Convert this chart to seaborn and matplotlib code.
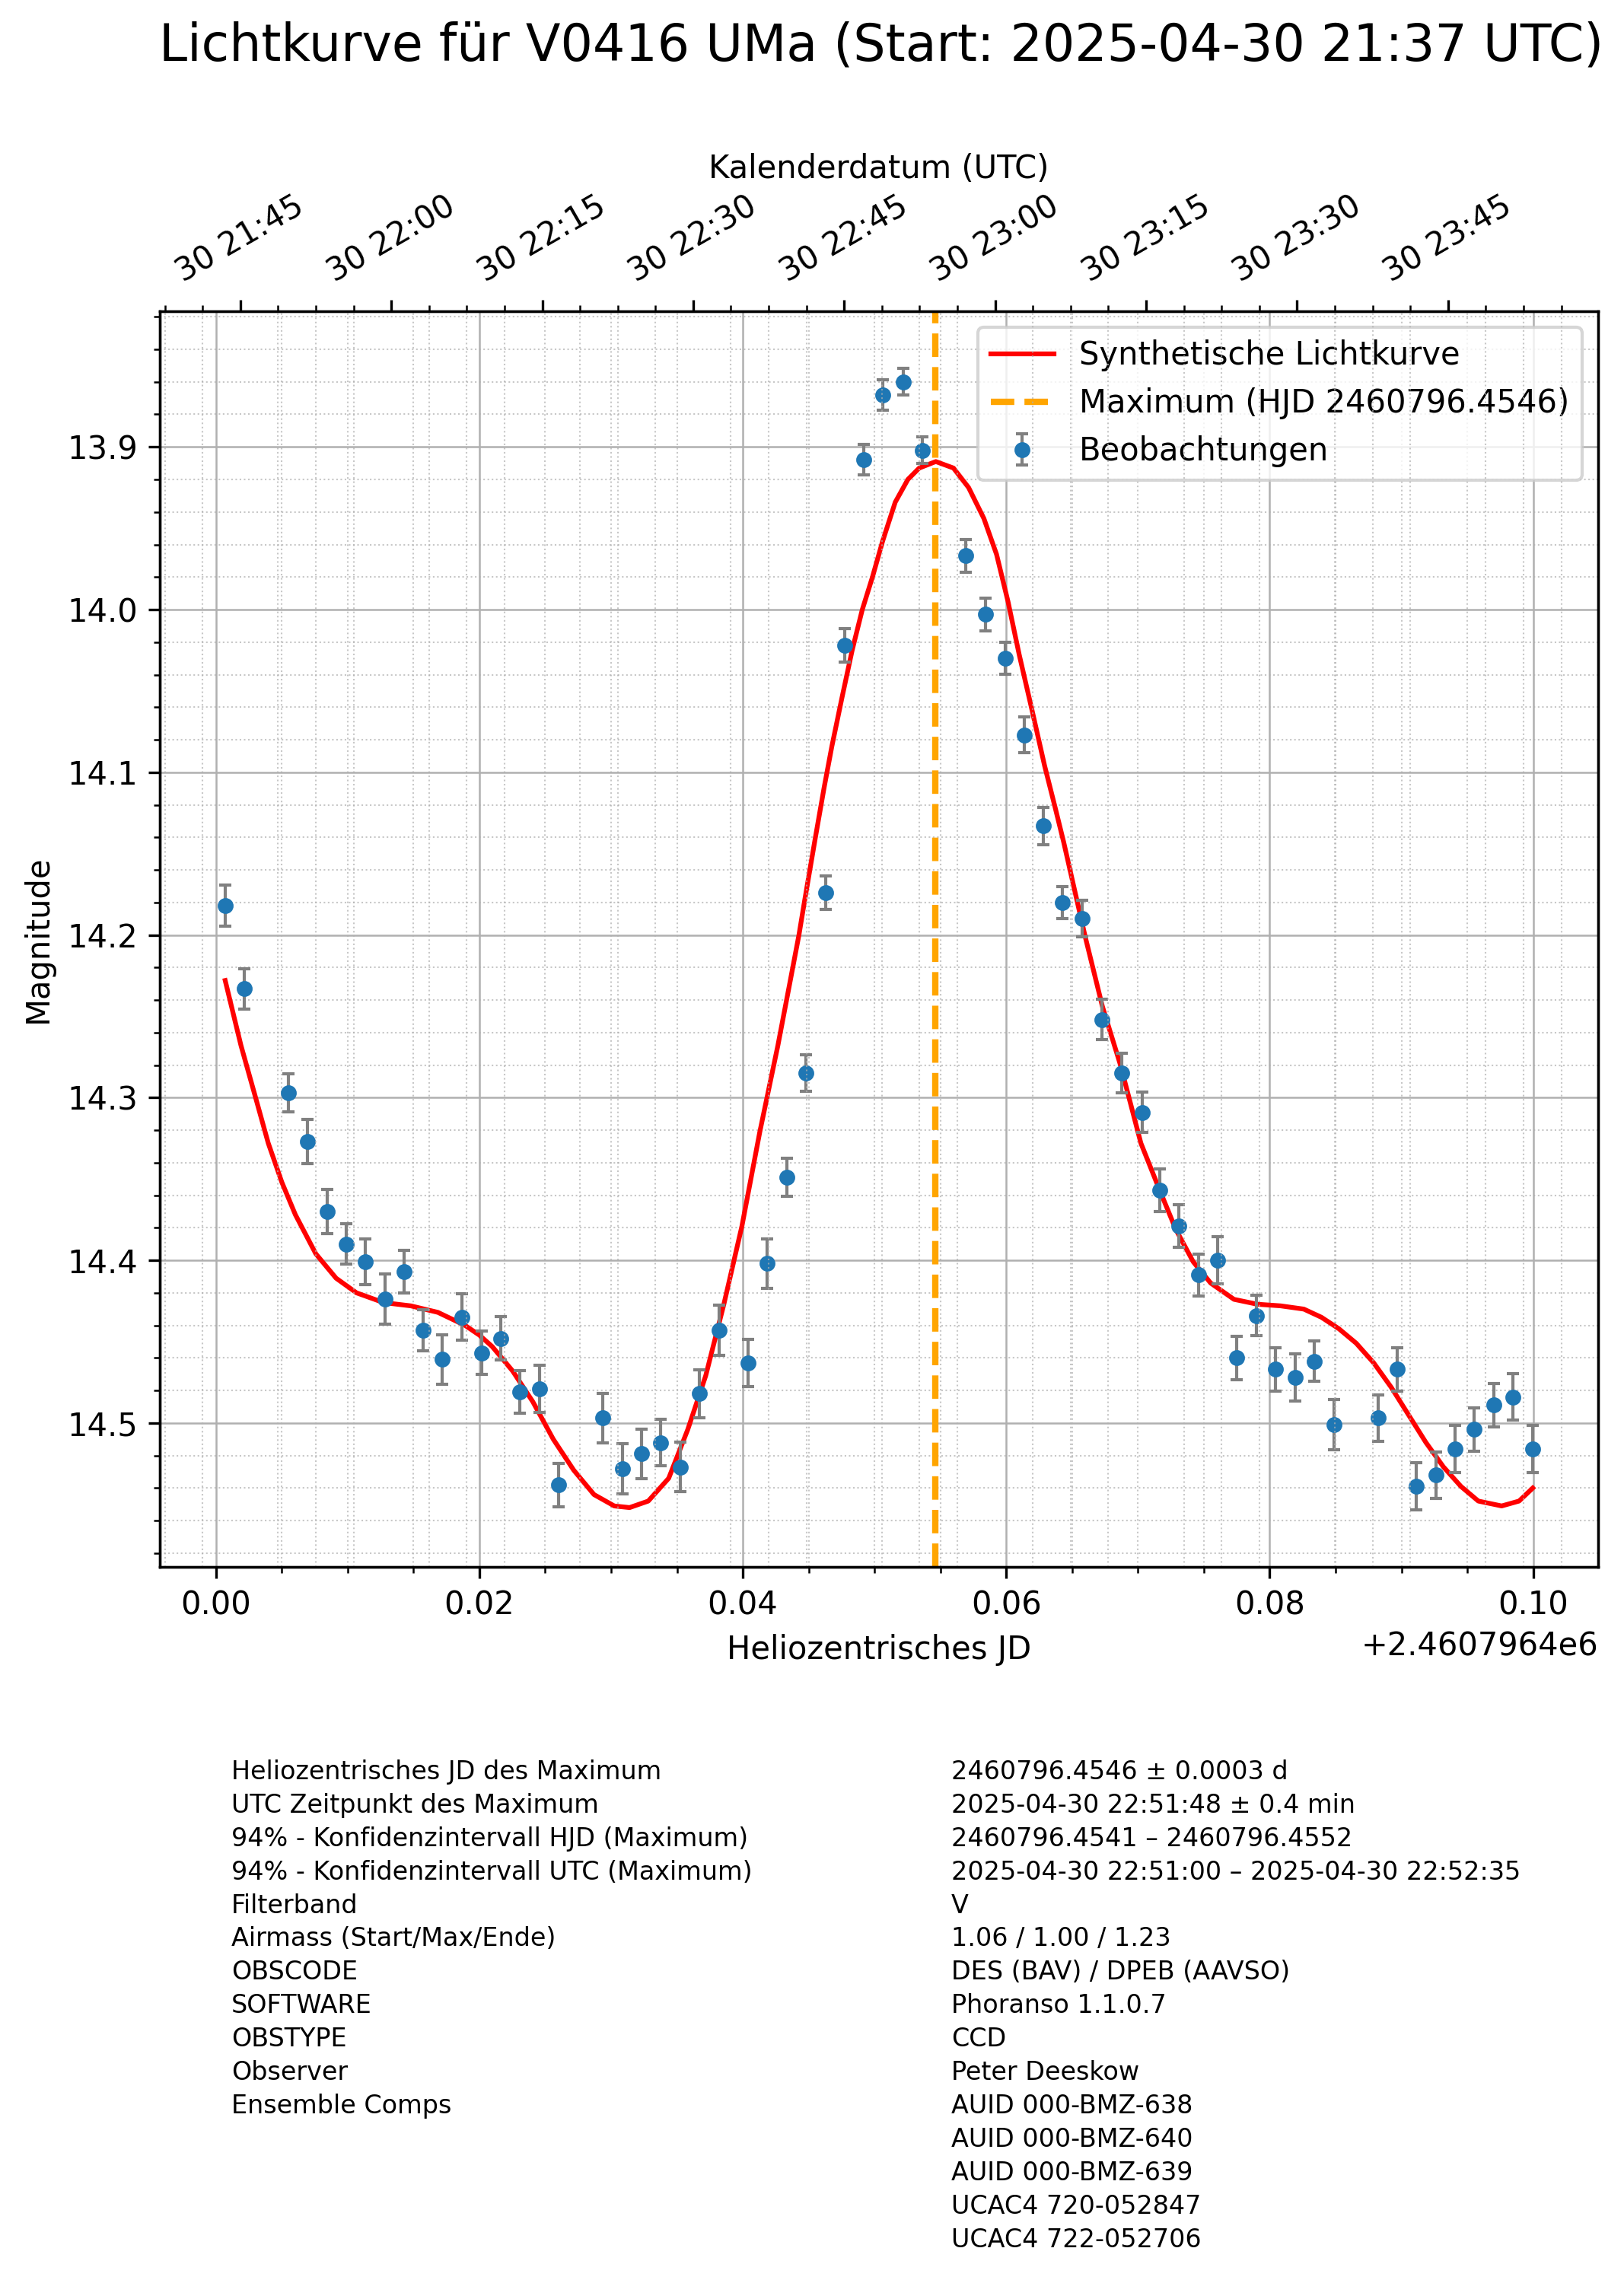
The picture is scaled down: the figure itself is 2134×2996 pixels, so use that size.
import matplotlib
matplotlib.use("Agg")
import matplotlib.pyplot as plt
from matplotlib.ticker import AutoMinorLocator
import seaborn as sns
from datetime import datetime

# ===============================
# Data
# ===============================
hjd = [2460796.40070, 2460796.40214, 2460796.40549, 2460796.40693, 2460796.40842,
       2460796.40987, 2460796.41131, 2460796.41283, 2460796.41430, 2460796.41574,
       2460796.41718, 2460796.41868, 2460796.42015, 2460796.42164, 2460796.42308,
       2460796.42458, 2460796.42602, 2460796.42937, 2460796.43087, 2460796.43231,
       2460796.43375, 2460796.43527, 2460796.43671, 2460796.43821, 2460796.44040,
       2460796.44182, 2460796.44335, 2460796.44478, 2460796.44627, 2460796.44772,
       2460796.44917, 2460796.45065, 2460796.45216, 2460796.45360, 2460796.45694,
       2460796.45840, 2460796.45990, 2460796.46137, 2460796.46282, 2460796.46428,
       2460796.46578, 2460796.46726, 2460796.46874, 2460796.47033, 2460796.47166,
       2460796.47310, 2460796.47462, 2460796.47605, 2460796.47751, 2460796.47899,
       2460796.48045, 2460796.48193, 2460796.48341, 2460796.48489, 2460796.48822,
       2460796.48966, 2460796.49114, 2460796.49262, 2460796.49407, 2460796.49553,
       2460796.49701, 2460796.49847, 2460796.49997]

mag = [14.182, 14.233, 14.297, 14.327, 14.370, 14.390, 14.401, 14.424, 14.407, 14.443,
       14.461, 14.435, 14.457, 14.448, 14.481, 14.479, 14.538, 14.497, 14.528, 14.519,
       14.512, 14.527, 14.482, 14.443, 14.463, 14.402, 14.349, 14.285, 14.174, 14.022,
       13.908, 13.868, 13.860, 13.902, 13.967, 14.003, 14.030, 14.077, 14.133, 14.180,
       14.190, 14.252, 14.285, 14.309, 14.357, 14.379, 14.409, 14.400, 14.460, 14.434,
       14.467, 14.472, 14.462, 14.501, 14.497, 14.467, 14.539, 14.532, 14.516, 14.504,
       14.489, 14.484, 14.516]

mag_err = [0.0127, 0.0124, 0.0118, 0.0136, 0.0134, 0.0125, 0.0140, 0.0154, 0.0131, 0.0128,
           0.0152, 0.0143, 0.0133, 0.0134, 0.0131, 0.0143, 0.0133, 0.0152, 0.0154, 0.0152,
           0.0145, 0.0154, 0.0146, 0.0154, 0.0146, 0.0151, 0.0115, 0.0113, 0.0105, 0.0105,
           0.0094, 0.0093, 0.0083, 0.0083, 0.0101, 0.0102, 0.0097, 0.0111, 0.0114, 0.0098,
           0.0113, 0.0124, 0.0122, 0.0123, 0.0131, 0.0132, 0.0130, 0.0145, 0.0133, 0.0124,
           0.0133, 0.0144, 0.0125, 0.0156, 0.0144, 0.0133, 0.0144, 0.0143, 0.0145, 0.0134,
           0.0134, 0.0143, 0.0143]

# synthetic light curve
curve_hjd = [2460796.40070, 2460796.40190, 2460796.40294, 2460796.40397, 2460796.40500,
             2460796.40603, 2460796.40758, 2460796.40912, 2460796.41067, 2460796.41273,
             2460796.41479, 2460796.41685, 2460796.41891, 2460796.42000, 2460796.42097,
             2460796.42252, 2460796.42406, 2460796.42561, 2460796.42716, 2460796.42870,
             2460796.43024, 2460796.43140, 2460796.43282, 2460796.43437, 2460796.43582,
             2460796.43718, 2460796.43856, 2460796.43993, 2460796.44129, 2460796.44266,
             2460796.44358, 2460796.44426, 2460796.44471, 2460796.44551, 2460796.44618,
             2460796.44676, 2460796.44753, 2460796.44830, 2460796.44907, 2460796.44984,
             2460796.45061, 2460796.45157, 2460796.45253, 2460796.45339, 2460796.45465,
             2460796.45599, 2460796.45714, 2460796.45830, 2460796.45926, 2460796.46013,
             2460796.46099, 2460796.46196, 2460796.46291, 2460796.46369, 2460796.46436,
             2460796.46599, 2460796.46730, 2460796.46867, 2460796.47022, 2460796.47155,
             2460796.47287, 2460796.47420, 2460796.47552, 2460796.47729, 2460796.47906,
             2460796.48083, 2460796.48259, 2460796.48392, 2460796.48524, 2460796.48657,
             2460796.48789, 2460796.48922, 2460796.49054, 2460796.49186, 2460796.49319,
             2460796.49452, 2460796.49584, 2460796.49761, 2460796.49893, 2460796.49997]

curve_mag = [14.228, 14.268, 14.298, 14.328, 14.352, 14.372, 14.396, 14.411, 14.420, 14.426,
             14.428, 14.432, 14.440, 14.446, 14.453, 14.468, 14.487, 14.510, 14.529, 14.544,
             14.551, 14.552, 14.548, 14.534, 14.504, 14.471, 14.427, 14.379, 14.321, 14.268,
             14.229, 14.200, 14.178, 14.140, 14.109, 14.084, 14.054, 14.025, 14.000, 13.980,
             13.958, 13.934, 13.920, 13.913, 13.909, 13.913, 13.925, 13.944, 13.966, 13.995,
             14.028, 14.062, 14.096, 14.121, 14.143, 14.201, 14.244, 14.280, 14.328, 14.355,
             14.381, 14.401, 14.414, 14.424, 14.427, 14.428, 14.430, 14.435, 14.442, 14.451,
             14.463, 14.478, 14.495, 14.512, 14.527, 14.539, 14.548, 14.551, 14.548, 14.540]

hjd_max = 2460796.4546

# calendar axis range (UTC of first / last observation)
utc_start = "2025-04-30 21:37:00"
utc_end = "2025-04-30 23:59:55"

title = "Lichtkurve für V0416 UMa (Start: 2025-04-30 21:37 UTC)"

info_labels = ["Heliozentrisches JD des Maximum",
               "UTC Zeitpunkt des Maximum",
               "94% - Konfidenzintervall HJD (Maximum)",
               "94% - Konfidenzintervall UTC (Maximum)",
               "Filterband",
               "Airmass (Start/Max/Ende)",
               "OBSCODE",
               "SOFTWARE",
               "OBSTYPE",
               "Observer",
               "Ensemble Comps"]

info_values = ["2460796.4546 ± 0.0003 d",
               "2025-04-30 22:51:48 ± 0.4 min",
               "2460796.4541 – 2460796.4552",
               "2025-04-30 22:51:00 – 2025-04-30 22:52:35",
               "V",
               "1.06 / 1.00 / 1.23",
               "DES (BAV) / DPEB (AAVSO)",
               "Phoranso 1.1.0.7",
               "CCD",
               "Peter Deeskow",
               "AUID 000-BMZ-638",
               "AUID 000-BMZ-640",
               "AUID 000-BMZ-639",
               "UCAC4 720-052847",
               "UCAC4 722-052706"]

# ===============================
# Figure
# ===============================
W, H = 2134, 2996
fig = plt.figure(figsize=(W / 300, H / 300), dpi=300)
ax = fig.add_axes([210 / W, 1 - 2059 / H, 1890 / W, 1650 / H])

sns.lineplot(x=curve_hjd, y=curve_mag, ax=ax, color="red", linewidth=1.5,
             sort=False, label="Synthetische Lichtkurve")
curve_line = ax.lines[-1]

eb = ax.errorbar(hjd, mag, yerr=mag_err, fmt="o", color="tab:blue", ecolor="gray",
                 markersize=4, elinewidth=1, capsize=2, capthick=1,
                 label="Beobachtungen")

vline = ax.axvline(hjd_max, color="orange", linestyle="--", linewidth=2,
                   label=f"Maximum (HJD {hjd_max:.4f})")

ax.invert_yaxis()
ax.set_xlabel("Heliozentrisches JD")
ax.set_ylabel("Magnitude")
ax.minorticks_on()
ax.grid(True, which="major", color="#b0b0b0", linewidth=0.6)
ax.grid(True, which="minor", color="#b0b0b0", linestyle=":", linewidth=0.5, alpha=0.7)

ax.legend([curve_line, vline, eb],
          ["Synthetische Lichtkurve", f"Maximum (HJD {hjd_max:.4f})", "Beobachtungen"],
          loc="upper right", fontsize=10)

# top axis with calendar date
ax2 = ax.twiny()
ax2.set_xlim(datetime.fromisoformat(utc_start), datetime.fromisoformat(utc_end))
ax2.xaxis.set_minor_locator(AutoMinorLocator())
ax2.grid(True, which="minor", axis="x", color="#b0b0b0", linestyle=":",
         linewidth=0.5, alpha=0.7)
ax2.tick_params(axis="x", labelrotation=30)
ax2.set_xlabel("Kalenderdatum (UTC)")

fig.text(1158 / W, 1 - 80 / H, title, ha="center", va="baseline", fontsize=16)

# info table below the plot
row0, dy = 2337.7, 43.95
for i, lab in enumerate(info_labels):
    fig.text(304 / W, 1 - (row0 + i * dy) / H, lab, fontsize=8, va="baseline")
for i, val in enumerate(info_values):
    fig.text(1250 / W, 1 - (row0 + i * dy) / H, val, fontsize=8, va="baseline")

fig.savefig("out.png", dpi=300)
